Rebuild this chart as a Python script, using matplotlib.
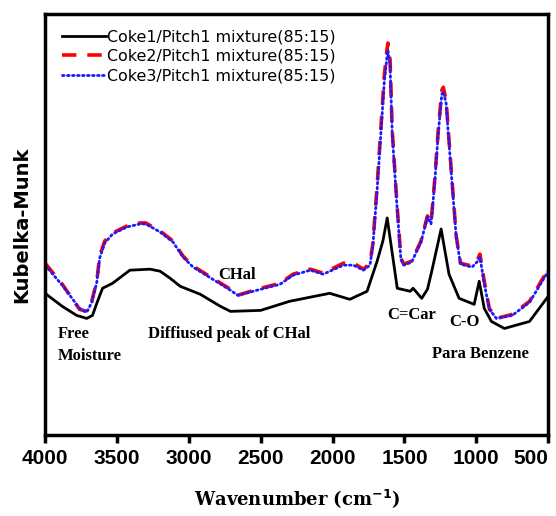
import matplotlib
matplotlib.use("Agg")
import matplotlib.pyplot as plt
import numpy as np

# ---- data (arbitrary Kubelka-Munk units) ----
wn_coke1 = [4000, 3880, 3780, 3710, 3670, 3635, 3600, 3530, 3410, 3270, 3200, 3130, 3060,
            2920, 2780, 2710, 2500, 2300, 2020, 1880, 1760, 1690, 1650, 1620, 1580, 1550,
            1460, 1440, 1380, 1340, 1310, 1245, 1190, 1120, 1015, 980, 945, 895, 805, 630, 500]
km_coke1 = [141, 128, 119, 116, 119, 133, 146, 151, 164, 165, 163, 156, 148,
            140, 128, 123, 124, 133, 141, 135, 143, 173, 193, 216, 176, 146,
            143, 146, 136, 145, 163, 205, 160, 136, 130, 153, 126, 113, 106, 113, 138]

wn_coke2 = [4000, 3880, 3760, 3710, 3675, 3640, 3620, 3585, 3530, 3430, 3340, 3300, 3200,
            3110, 3040, 2970, 2800, 2710, 2660, 2500, 2365, 2275, 2155, 2065, 1925, 1855,
            1785, 1740, 1720, 1690, 1665, 1640, 1620, 1615, 1600, 1585, 1555, 1525, 1505,
            1450, 1385, 1340, 1315, 1290, 1265, 1240, 1230, 1210, 1195, 1160, 1140, 1110,
            1030, 990, 975, 945, 910, 860, 750, 630, 500]
km_coke2 = [171, 150, 125, 123, 133, 153, 178, 193, 201, 208, 211, 211, 203,
            193, 178, 168, 153, 145, 139, 146, 151, 160, 165, 161, 171, 171,
            165, 171, 190, 248, 303, 358, 385, 390, 373, 303, 236, 176, 170,
            173, 193, 218, 211, 253, 303, 343, 346, 333, 303, 236, 198, 171,
            168, 175, 180, 153, 126, 116, 120, 133, 165]

wn_coke3 = wn_coke2
km_coke3 = [169, 149, 126, 122, 132, 152, 176, 191, 200, 207, 210, 210, 202,
            192, 177, 167, 152, 144, 139, 145, 150, 159, 164, 160, 169, 169,
            164, 169, 188, 244, 298, 352, 378, 383, 368, 300, 234, 175, 169,
            172, 192, 217, 210, 250, 300, 339, 342, 330, 300, 234, 197, 170,
            167, 173, 177, 151, 125, 116, 119, 132, 163]

labels = ["Coke1/Pitch1 mixture(85:15)",
          "Coke2/Pitch1 mixture(85:15)",
          "Coke3/Pitch1 mixture(85:15)"]
xticks = [4000, 3500, 3000, 2500, 2000, 1500, 1000, 500]

# ---- figure ----
fig = plt.figure(figsize=(5.56, 5.16), dpi=100)
ax = fig.add_axes([0.081, 0.157, 0.905, 0.816])

ax.plot(wn_coke1, km_coke1, color="black", lw=2.0, label=labels[0])
ax.plot(wn_coke2, km_coke2, color="red", lw=2.6, ls=(0, (4, 3)), label=labels[1])
ax.plot(wn_coke3, km_coke3, color="#1a1aff", lw=2.0, ls=(0, (0.6, 1.2)),
        dash_capstyle="round", label=labels[2])

ax.set_xlim(4000, 500)
ax.set_ylim(0, 419)
ax.set_xticks(xticks)
ax.set_xticklabels([str(t) for t in xticks], fontfamily="Liberation Sans",
                   fontweight="bold", fontsize=15)
ax.get_xticklabels()[-1].set_horizontalalignment("right")
ax.set_yticks([])
ax.tick_params(axis="x", direction="out", length=6, width=2.5, pad=4)
for s in ax.spines.values():
    s.set_linewidth(2.5)

ax.set_xlabel("Wavenumber (cm$^{\\mathbf{-1}}$)", fontfamily="DejaVu Serif",
              fontweight="bold", fontsize=13, labelpad=14)
ax.set_ylabel("Kubelka-Munk", fontfamily="DejaVu Sans", fontweight="bold",
              fontsize=14, labelpad=10)

leg = ax.legend(loc="upper left", frameon=False, fontsize=11.4, handlelength=2.8,
                handletextpad=0.05, labelspacing=0.3, borderaxespad=0.3,
                bbox_to_anchor=(0.012, 0.99))

tkw = dict(fontfamily="Liberation Serif", fontweight="bold", fontsize=12)
ax.text(3910, 108, "Free\nMoisture", va="top", ha="left", linespacing=1.5, **tkw)
ax.text(3283, 100, "Diffiused peak of CHal", va="center", ha="left", **tkw)
ax.text(2796, 159, "CHal", va="center", ha="left", **tkw)
ax.text(1620, 119, "C=Car", va="center", ha="left", **tkw)
ax.text(1189, 112, "C-O", va="center", ha="left", **tkw)
ax.text(1307, 81, "Para Benzene", va="center", ha="left", **tkw)

fig.savefig("out.png", dpi=100)
